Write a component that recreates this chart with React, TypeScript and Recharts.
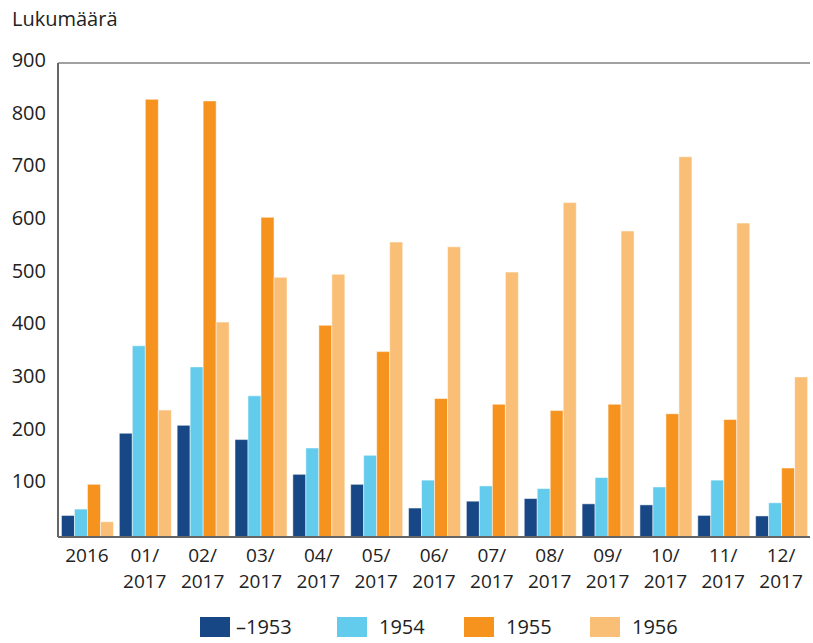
import React from "react";
import { BarChart, Bar, XAxis, YAxis, CartesianGrid } from "recharts";

const categories = ["2016", "01/\n2017", "02/\n2017", "03/\n2017", "04/\n2017", "05/\n2017", "06/\n2017", "07/\n2017", "08/\n2017", "09/\n2017", "10/\n2017", "11/\n2017", "12/\n2017"];
const s1953 = [41, 197, 212, 185, 119, 100, 55, 68, 73, 63, 61, 41, 40];
const s1954 = [53, 363, 323, 268, 169, 155, 108, 97, 92, 113, 95, 108, 65];
const s1955 = [100, 831, 828, 607, 402, 352, 263, 252, 240, 252, 234, 223, 131];
const s1956 = [29, 241, 408, 493, 499, 560, 551, 503, 635, 581, 722, 596, 304];
const yTicks = [0, 100, 200, 300, 400, 500, 600, 700, 800, 900];
const seriesNames = ["\u20131953", "1954", "1955", "1956"];
const colors = ["#174785", "#63CBEB", "#F6921E", "#F9BF76"];

const data = categories.map((c, i) => ({
  cat: c,
  a: s1953[i],
  b: s1954[i],
  c: s1955[i],
  d: s1956[i],
}));

const FONT = "'Open Sans', sans-serif";

const XTick = (props: any) => {
  const { x, y, payload } = props;
  const lines = String(payload.value).split("\n");
  return (
    <g>
      {lines.map((l: string, i: number) => (
        <text key={i} x={x} y={y + 25 + i * 26} textAnchor="middle" fontFamily={FONT} fontSize={19} fill="#222">
          {l}
        </text>
      ))}
    </g>
  );
};

const YTick = (props: any) => {
  const { y, payload } = props;
  if (payload.value === 0) return null;
  return (
    <text x={46} y={y + 4} textAnchor="end" fontFamily={FONT} fontSize={20} fill="#222">
      {payload.value}
    </text>
  );
};

const legendLeft = [200, 337, 464, 590];

export default function App() {
  return (
    <div style={{ position: "absolute", left: 0, top: 0, width: 813, height: 643, background: "#fff", overflow: "hidden" }}>
      <div style={{ position: "absolute", left: 12, top: 5, fontFamily: FONT, fontSize: 20, color: "#222" }}>Lukumäärä</div>
      <BarChart width={813} height={643} data={data} margin={{ top: 63, right: 3, left: 0, bottom: 20 }} barGap={0} barCategoryGap="6%">
        <CartesianGrid vertical={false} stroke="#444" strokeWidth={1.2} />
        <XAxis dataKey="cat" tick={<XTick />} tickLine={false} tickSize={0} tickMargin={0} axisLine={{ stroke: "#666", strokeWidth: 2 }} height={86} interval={0} />
        <YAxis yAxisId="l" domain={[0, 900]} ticks={yTicks} width={58} tick={<YTick />} tickLine={false} axisLine={{ stroke: "#666", strokeWidth: 2 }} />
        <YAxis yAxisId="r" orientation="right" domain={[0, 900]} ticks={yTicks} width={0} tick={false} tickLine={false} axisLine={{ stroke: "#666", strokeWidth: 2 }} />
        <Bar yAxisId="l" dataKey="a" name={seriesNames[0]} fill={colors[0]} stroke="#fff" strokeWidth={0.5} isAnimationActive={false} />
        <Bar yAxisId="l" dataKey="b" name={seriesNames[1]} fill={colors[1]} stroke="#fff" strokeWidth={0.5} isAnimationActive={false} />
        <Bar yAxisId="l" dataKey="c" name={seriesNames[2]} fill={colors[2]} stroke="#fff" strokeWidth={0.5} isAnimationActive={false} />
        <Bar yAxisId="l" dataKey="d" name={seriesNames[3]} fill={colors[3]} stroke="#fff" strokeWidth={0.5} isAnimationActive={false} />
      </BarChart>
      {seriesNames.map((n, i) => (
        <div key={n} style={{ position: "absolute", left: legendLeft[i], top: 614, display: "flex", alignItems: "center", fontFamily: FONT, fontSize: 20, color: "#222", lineHeight: "26px" }}>
          <div style={{ width: 30, height: 20, background: colors[i], marginRight: i === 0 ? 6 : 12 }} />
          <span>{n}</span>
        </div>
      ))}
    </div>
  );
}
